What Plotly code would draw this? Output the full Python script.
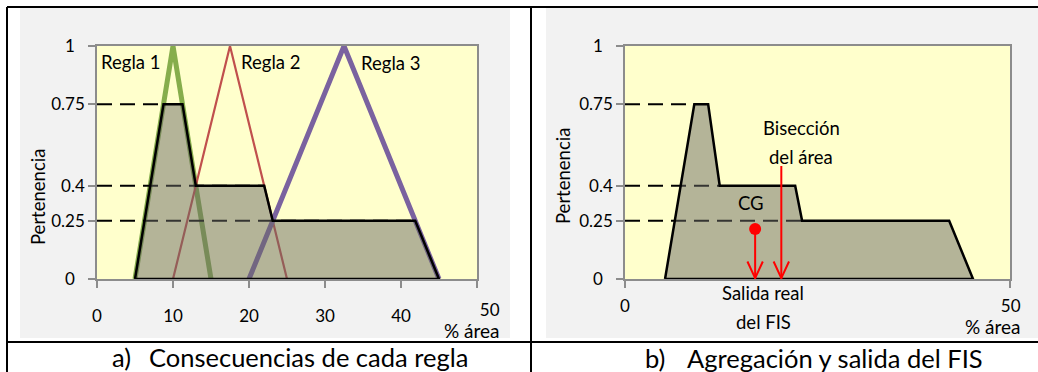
import plotly.graph_objects as go

W, H = 1038, 372

# Consequent membership functions of the three rules (triangles)
regla1_x = [5, 10, 15]
regla2_x = [10, 17.5, 25]
regla3_x = [20, 32.5, 45]
tri_y = [0, 1, 0]

# Aggregated (clipped) output set - panel a
agg_a_x = [5, 8.75, 11.25, 13, 22, 23.125, 41.875, 45, 5]
agg_a_y = [0, 0.75, 0.75, 0.4, 0.4, 0.25, 0.25, 0, 0]
# Aggregated output set - panel b
agg_b_x = [5.2, 9.0, 10.8, 12.3, 22.1, 23.0, 42.1, 45.2, 5.2]
agg_b_y = [0, 0.75, 0.75, 0.4, 0.4, 0.25, 0.25, 0, 0]

# Activation levels and where their guide lines end
levels = [0.75, 0.4, 0.25]
level_end_a = [8.75, 22, 41.875]
level_end_b = [9.0, 12.3, 23.0]

# Defuzzification results
cg_x, cg_y = 16.9, 0.215
bis_x, bis_top = 20.3, 0.485

y_ticks = [0, 0.25, 0.4, 0.75, 1]
y_ticktext = ["0\u2007", "0.25", "0.4", "0.75", "1\u2007"]
x_ticks_a = [0, 10, 20, 30, 40, 50]
x_ticktext_a = ["0", "10", "20", "30", "40", ""]
x_ticks_b = [0, 50]
x_ticktext_b = ["0", ""]

FONT = "Lato"
GREEN = "#86AD4C"
RED = "#C0504D"
PURPLE = "#7A629F"
FILL = "rgba(105,105,100,0.5)"
AXIS = "#8c8c8c"


def px(x):
    return x / W


def py(y):
    return 1 - y / H


fig = go.Figure()

# ---- panel a ----
for xs, col, w in [(regla1_x, GREEN, 5), (regla2_x, RED, 2.2), (regla3_x, PURPLE, 5)]:
    fig.add_trace(go.Scatter(x=xs, y=tri_y, mode="lines", line=dict(color=col, width=w),
                             xaxis="x", yaxis="y", hoverinfo="skip"))
for lv, xe in zip(levels, level_end_a):
    fig.add_trace(go.Scatter(x=[0, xe], y=[lv, lv], mode="lines",
                             line=dict(color="black", width=2, dash="15px,8px"),
                             xaxis="x", yaxis="y", hoverinfo="skip"))
fig.add_trace(go.Scatter(x=agg_a_x, y=agg_a_y, mode="lines", fill="toself", fillcolor=FILL,
                         line=dict(color="black", width=2.5), xaxis="x", yaxis="y",
                         hoverinfo="skip"))

# ---- panel b ----
for lv, xe in zip(levels, level_end_b):
    fig.add_trace(go.Scatter(x=[0, xe], y=[lv, lv], mode="lines",
                             line=dict(color="black", width=2, dash="15px,8px"),
                             xaxis="x2", yaxis="y2", hoverinfo="skip"))
fig.add_trace(go.Scatter(x=agg_b_x, y=agg_b_y, mode="lines", fill="toself", fillcolor=FILL,
                         line=dict(color="black", width=2.5), xaxis="x2", yaxis="y2",
                         hoverinfo="skip"))

# arrows from the centroid and the bisector down to the axis
head_w, head_h = 1.0, 0.075
for x0, ytop in [(cg_x, cg_y), (bis_x, bis_top)]:
    fig.add_trace(go.Scatter(x=[x0, x0], y=[ytop, 0], mode="lines",
                             line=dict(color="#FF0000", width=2),
                             xaxis="x2", yaxis="y2", hoverinfo="skip"))
    fig.add_trace(go.Scatter(x=[x0 - head_w, x0, x0 + head_w], y=[head_h, 0.004, head_h],
                             mode="lines", line=dict(color="#FF0000", width=2),
                             xaxis="x2", yaxis="y2", hoverinfo="skip"))
fig.add_trace(go.Scatter(x=[cg_x], y=[cg_y], mode="markers",
                         marker=dict(color="#FF0000", size=12), cliponaxis=False,
                         xaxis="x2", yaxis="y2", hoverinfo="skip"))

axis_common = dict(showgrid=False, zeroline=False, showline=True, mirror=True,
                   linecolor=AXIS, linewidth=1.5, ticks="outside", ticklen=7,
                   tickcolor=AXIS, tickwidth=1.5, fixedrange=True, automargin=False,
                   tickfont=dict(family=FONT, size=17, color="black"))

dom_y = [py(279), py(46)]
fig.update_layout(
    width=W, height=H, margin=dict(l=0, r=0, t=0, b=0, pad=0, autoexpand=False),
    paper_bgcolor="white", plot_bgcolor="rgba(0,0,0,0)", showlegend=False,
    xaxis=dict(domain=[px(97), px(477)], range=[0, 50], anchor="y",
               tickvals=x_ticks_a, ticktext=x_ticktext_a, ticklabelstandoff=14,
               **axis_common),
    yaxis=dict(domain=dom_y, range=[0, 1], anchor="x",
               tickvals=y_ticks, ticktext=y_ticktext, **axis_common),
    xaxis2=dict(domain=[px(625), px(1010)], range=[0, 50], anchor="y2",
                tickvals=x_ticks_b, ticktext=x_ticktext_b, ticklabelstandoff=4,
                **axis_common),
    yaxis2=dict(domain=dom_y, range=[0, 1], anchor="x2",
                tickvals=y_ticks, ticktext=y_ticktext, **axis_common),
)

shapes = [
    # chart area backgrounds
    dict(type="rect", xref="paper", yref="paper", x0=px(20), x1=px(510), y0=py(338), y1=py(8),
         fillcolor="#F2F2F2", line=dict(width=0), layer="below"),
    dict(type="rect", xref="paper", yref="paper", x0=px(546), x1=px(1040), y0=py(338), y1=py(8),
         fillcolor="#F2F2F2", line=dict(width=0), layer="below"),
    # plot area fills
    dict(type="rect", xref="x", yref="y", x0=0, x1=50, y0=0, y1=1,
         fillcolor="#FFFFCC", line=dict(width=0), layer="below"),
    dict(type="rect", xref="x2", yref="y2", x0=0, x1=50, y0=0, y1=1,
         fillcolor="#FFFFCC", line=dict(width=0), layer="below"),
]
# table borders
for x0, y0, x1, y1 in [(7, 7, 1040, 7), (7, 7, 7, 380), (531, 7, 531, 380), (7, 342, 1040, 342)]:
    shapes.append(dict(type="line", xref="paper", yref="paper", x0=px(x0), x1=px(x1),
                       y0=py(y0), y1=py(y1), line=dict(color="black", width=2), layer="above"))
fig.update_layout(shapes=shapes)


def label(text, x, y, size=17, xanchor="center", angle=0, align="center"):
    fig.add_annotation(text=text, xref="paper", yref="paper", x=px(x), y=py(y),
                       xanchor=xanchor, yanchor="middle", showarrow=False, textangle=angle,
                       align=align, font=dict(family=FONT, size=size, color="black"))


unit_label = "50<br><span style='font-size:19px'>% área</span>"

label("Regla 1", 130, 62, 18.5)
label("Regla 2", 270, 62, 18.5)
label("Regla 3", 390, 63, 18.5)
label("Pertenencia", 38, 197, 18.5, angle=-90)
label("Pertenencia", 563, 176, 18.5, angle=-90)
label(unit_label, 502, 320, 17, xanchor="right", align="right")
label(unit_label, 1023, 316, 17, xanchor="right", align="right")
label("Bisección", 801, 128, 18.5)
label("del área", 801, 157, 18.5)
label("CG", 751, 203, 18.5)
label("Salida real", 763, 293, 18.5)
label("del FIS", 763, 322, 18.5)
label("a)", 110, 357, 25.5, xanchor="left")
label("Consecuencias de cada regla", 147, 357, 25.5, xanchor="left")
label("b)", 643, 358, 25.5, xanchor="left")
label("Agregación y salida del FIS", 685, 358, 25.5, xanchor="left")

fig.write_html("out.html")
